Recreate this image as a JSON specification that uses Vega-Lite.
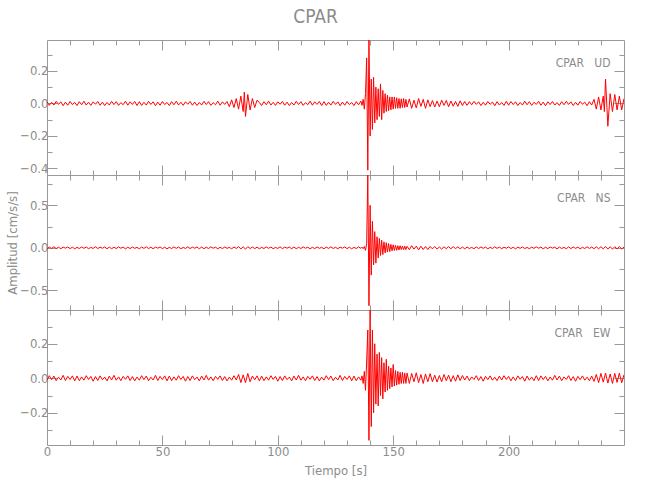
{
"$schema": "https://vega.github.io/schema/vega-lite/v6.json",
"autosize": "pad",
"padding": {"left": 6, "top": 8, "right": 26, "bottom": 5},
"background": "white",
"title": {"text": "CPAR", "fontSize": 19, "font": "Liberation Sans Narrow, DejaVu Sans Condensed, Liberation Sans, sans-serif", "color": "#8c8c8c", "fontWeight": "normal", "offset": 12, "anchor": "middle"},
"config": {
  "view": {"stroke": "#999999", "strokeWidth": 1},
  "concat": {"spacing": 0},
  "axis": {"domain": false, "grid": false, "tickColor": "#999999", "tickWidth": 1, "labelFont": "Liberation Sans Narrow, DejaVu Sans Condensed, Liberation Sans, sans-serif", "labelFontSize": 13, "labelColor": "#8c8c8c", "titleFont": "Liberation Sans Narrow, DejaVu Sans Condensed, Liberation Sans, sans-serif", "titleFontSize": 13, "titleColor": "#8c8c8c", "titleFontWeight": "normal", "labelFlush": false, "labelOverlap": false}
},
"datasets": {"d": [
{"t":0,"u":0.011,"n":-0.011,"e":-0.011},
{"t":1,"u":-0.012,"n":0.009,"e":0.015},
{"t":2,"u":0.007,"n":-0.007,"e":-0.008},
{"t":3,"u":-0.010,"n":0.012,"e":0.013},
{"t":4,"u":0.013,"n":-0.008,"e":-0.014},
{"t":5,"u":-0.006,"n":0.006,"e":0.006},
{"t":6,"u":0.010,"n":-0.010,"e":-0.010},
{"t":7,"u":-0.014,"n":0.008,"e":0.017},
{"t":8,"u":0.008,"n":-0.004,"e":-0.013},
{"t":9,"u":-0.011,"n":0.010,"e":0.011},
{"t":10,"u":0.012,"n":-0.009,"e":-0.007},
{"t":11,"u":-0.007,"n":0.007,"e":0.014},
{"t":12,"u":0.006,"n":-0.011,"e":-0.015},
{"t":13,"u":-0.013,"n":0.005,"e":0.013},
{"t":14,"u":0.011,"n":-0.008,"e":-0.014},
{"t":15,"u":-0.008,"n":0.011,"e":0.008},
{"t":16,"u":0.014,"n":-0.006,"e":-0.011},
{"t":17,"u":-0.010,"n":0.009,"e":0.015},
{"t":18,"u":0.007,"n":-0.010,"e":-0.007},
{"t":19,"u":-0.012,"n":0.004,"e":0.011},
{"t":20,"u":0.010,"n":-0.007,"e":-0.017},
{"t":21,"u":-0.005,"n":0.012,"e":0.010},
{"t":22,"u":0.012,"n":-0.009,"e":-0.013},
{"t":23,"u":-0.011,"n":0.008,"e":0.014},
{"t":24,"u":0.008,"n":-0.005,"e":-0.008},
{"t":25,"u":-0.013,"n":0.010,"e":0.007},
{"t":26,"u":0.006,"n":-0.011,"e":-0.015},
{"t":27,"u":-0.010,"n":0.009,"e":0.013},
{"t":28,"u":0.013,"n":-0.010,"e":-0.010},
{"t":29,"u":-0.007,"n":0.006,"e":0.017},
{"t":30,"u":0.011,"n":-0.008,"e":-0.011},
{"t":31,"u":-0.012,"n":0.011,"e":0.008},
{"t":32,"u":0.005,"n":-0.005,"e":-0.014},
{"t":33,"u":-0.008,"n":0.008,"e":0.011},
{"t":34,"u":0.014,"n":-0.012,"e":-0.006},
{"t":35,"u":-0.011,"n":0.007,"e":0.014},
{"t":36,"u":0.010,"n":-0.009,"e":-0.013},
{"t":37,"u":-0.006,"n":0.010,"e":0.010},
{"t":38,"u":0.012,"n":-0.006,"e":-0.015},
{"t":39,"u":-0.013,"n":0.005,"e":0.007},
{"t":40,"u":0.011,"n":-0.011,"e":-0.011},
{"t":41,"u":-0.012,"n":0.009,"e":0.015},
{"t":42,"u":0.007,"n":-0.007,"e":-0.008},
{"t":43,"u":-0.010,"n":0.012,"e":0.013},
{"t":44,"u":0.013,"n":-0.008,"e":-0.014},
{"t":45,"u":-0.006,"n":0.006,"e":0.006},
{"t":46,"u":0.010,"n":-0.010,"e":-0.010},
{"t":47,"u":-0.014,"n":0.008,"e":0.017},
{"t":48,"u":0.008,"n":-0.004,"e":-0.013},
{"t":49,"u":-0.011,"n":0.010,"e":0.011},
{"t":50,"u":0.012,"n":-0.009,"e":-0.007},
{"t":51,"u":-0.007,"n":0.007,"e":0.014},
{"t":52,"u":0.006,"n":-0.011,"e":-0.015},
{"t":53,"u":-0.013,"n":0.005,"e":0.013},
{"t":54,"u":0.011,"n":-0.008,"e":-0.014},
{"t":55,"u":-0.008,"n":0.011,"e":0.008},
{"t":56,"u":0.014,"n":-0.006,"e":-0.011},
{"t":57,"u":-0.010,"n":0.009,"e":0.015},
{"t":58,"u":0.007,"n":-0.010,"e":-0.007},
{"t":59,"u":-0.012,"n":0.004,"e":0.011},
{"t":60,"u":0.010,"n":-0.007,"e":-0.017},
{"t":61,"u":-0.005,"n":0.012,"e":0.010},
{"t":62,"u":0.012,"n":-0.009,"e":-0.013},
{"t":63,"u":-0.011,"n":0.008,"e":0.014},
{"t":64,"u":0.008,"n":-0.005,"e":-0.008},
{"t":65,"u":-0.013,"n":0.010,"e":0.007},
{"t":66,"u":0.006,"n":-0.011,"e":-0.015},
{"t":67,"u":-0.010,"n":0.009,"e":0.013},
{"t":68,"u":0.013,"n":-0.010,"e":-0.010},
{"t":69,"u":-0.007,"n":0.006,"e":0.017},
{"t":70,"u":0.011,"n":-0.008,"e":-0.011},
{"t":71,"u":-0.012,"n":0.011,"e":0.008},
{"t":72,"u":0.005,"n":-0.005,"e":-0.014},
{"t":73,"u":-0.008,"n":0.008,"e":0.011},
{"t":74,"u":0.014,"n":-0.012,"e":-0.006},
{"t":75,"u":-0.011,"n":0.007,"e":0.014},
{"t":76,"u":0.010,"n":-0.009,"e":-0.013},
{"t":77,"u":-0.006,"n":0.010,"e":0.010},
{"t":78,"u":0.012,"n":-0.006,"e":-0.015},
{"t":79,"u":-0.020,"n":0.005,"e":0.007},
{"t":80,"u":0.022,"n":-0.011,"e":-0.011},
{"t":81,"u":-0.025,"n":0.009,"e":0.015},
{"t":82,"u":0.030,"n":-0.007,"e":-0.010},
{"t":83,"u":-0.035,"n":0.014,"e":0.022},
{"t":84,"u":0.045,"n":-0.013,"e":-0.025},
{"t":85,"u":-0.050,"n":0.012,"e":0.020},
{"t":85.5,"u":0.070},
{"t":86,"u":-0.080,"n":-0.015,"e":-0.025},
{"t":87,"u":0.055,"n":0.013,"e":0.028},
{"t":88,"u":-0.040,"n":-0.008,"e":-0.020},
{"t":89,"u":0.030,"n":0.010,"e":0.013},
{"t":90,"u":-0.025,"n":-0.009,"e":-0.009},
{"t":91,"u":0.020,"n":0.007,"e":0.014},
{"t":92,"u":0.006,"n":-0.011,"e":-0.015},
{"t":93,"u":-0.013,"n":0.005,"e":0.013},
{"t":94,"u":0.011,"n":-0.008,"e":-0.014},
{"t":95,"u":-0.008,"n":0.011,"e":0.008},
{"t":96,"u":0.014,"n":-0.006,"e":-0.011},
{"t":97,"u":-0.010,"n":0.009,"e":0.015},
{"t":98,"u":0.007,"n":-0.010,"e":-0.007},
{"t":99,"u":-0.012,"n":0.004,"e":0.011},
{"t":100,"u":0.010,"n":-0.007,"e":-0.017},
{"t":101,"u":-0.005,"n":0.012,"e":0.010},
{"t":102,"u":0.012,"n":-0.009,"e":-0.013},
{"t":103,"u":-0.011,"n":0.008,"e":0.014},
{"t":104,"u":0.008,"n":-0.005,"e":-0.008},
{"t":105,"u":-0.013,"n":0.010,"e":0.007},
{"t":106,"u":0.006,"n":-0.011,"e":-0.015},
{"t":107,"u":-0.010,"n":0.009,"e":0.013},
{"t":108,"u":0.013,"n":-0.010,"e":-0.010},
{"t":109,"u":-0.007,"n":0.006,"e":0.017},
{"t":110,"u":0.011,"n":-0.008,"e":-0.011},
{"t":111,"u":-0.012,"n":0.011,"e":0.008},
{"t":112,"u":0.005,"n":-0.005,"e":-0.014},
{"t":113,"u":-0.008,"n":0.008,"e":0.011},
{"t":114,"u":0.014,"n":-0.012,"e":-0.006},
{"t":115,"u":-0.011,"n":0.007,"e":0.014},
{"t":116,"u":0.010,"n":-0.009,"e":-0.013},
{"t":117,"u":-0.006,"n":0.010,"e":0.010},
{"t":118,"u":0.012,"n":-0.006,"e":-0.015},
{"t":119,"u":-0.013,"n":0.005,"e":0.007},
{"t":120,"u":0.011,"n":-0.011,"e":-0.011},
{"t":121,"u":-0.012,"n":0.009,"e":0.015},
{"t":122,"u":0.007,"n":-0.007,"e":-0.008},
{"t":123,"u":-0.010,"n":0.012,"e":0.013},
{"t":124,"u":0.013,"n":-0.008,"e":-0.014},
{"t":125,"u":-0.006,"n":0.006,"e":0.006},
{"t":126,"u":0.010,"n":-0.010,"e":-0.010},
{"t":127,"u":-0.014,"n":0.008,"e":0.017},
{"t":128,"u":0.008,"n":-0.004,"e":-0.013},
{"t":129,"u":-0.011,"n":0.010,"e":0.011},
{"t":130,"u":0.012,"n":-0.009,"e":-0.007},
{"t":131,"u":-0.007,"n":0.007,"e":0.014},
{"t":132,"u":0.006,"n":-0.011,"e":-0.015},
{"t":133,"u":-0.013,"n":0.005,"e":0.013},
{"t":134,"u":0.011,"n":-0.008,"e":-0.014},
{"t":135,"u":-0.008,"n":0.011,"e":0.008},
{"t":136,"u":0.014,"n":-0.006,"e":-0.011},
{"t":136.5,"u":-0.012,"n":0.008,"e":0.014},
{"t":137,"u":0.025,"n":-0.010,"e":-0.030},
{"t":137.5,"u":-0.035,"n":0.015,"e":0.040},
{"t":138,"u":0.060,"n":-0.030,"e":-0.070},
{"t":138.5,"u":0.280,"n":0.050,"e":0.100},
{"t":139,"u":-0.410,"n":0.900,"e":0.280},
{"t":139.5,"u":0.420,"n":-0.680,"e":-0.360},
{"t":140,"u":-0.200,"n":0.500,"e":0.420},
{"t":140.5,"u":0.150,"n":-0.320,"e":-0.280},
{"t":141,"u":-0.160,"n":0.310,"e":0.280},
{"t":141.5,"u":0.160,"n":-0.200,"e":-0.200},
{"t":142,"u":-0.120,"n":0.190,"e":0.200},
{"t":142.5,"u":0.100,"n":-0.180,"e":-0.150},
{"t":143,"u":-0.100,"n":0.130,"e":0.140},
{"t":143.5,"u":0.090,"n":-0.120,"e":-0.160},
{"t":144,"u":-0.080,"n":0.110,"e":0.150},
{"t":144.5,"u":0.120,"n":-0.090,"e":-0.100},
{"t":145,"u":-0.100,"n":0.090,"e":0.120},
{"t":145.5,"u":0.080,"n":-0.080,"e":-0.120},
{"t":146,"u":-0.060,"n":0.070,"e":0.090},
{"t":146.5,"u":0.060,"n":-0.060,"e":-0.080},
{"t":147,"u":-0.050,"n":0.060,"e":0.110},
{"t":147.5,"u":0.050,"n":-0.050,"e":-0.070},
{"t":148,"u":-0.045,"n":0.050,"e":0.070},
{"t":148.5,"u":0.040,"n":-0.045,"e":-0.060},
{"t":149,"u":-0.040,"n":0.040,"e":0.060},
{"t":149.5,"u":0.040,"n":-0.035,"e":-0.050},
{"t":150,"u":-0.035,"n":0.035,"e":0.080},
{"t":150.5,"u":0.040,"n":-0.030,"e":-0.045},
{"t":151,"u":-0.030,"n":0.030,"e":0.045},
{"t":151.5,"u":0.035,"n":-0.030,"e":-0.040},
{"t":152,"u":-0.030,"n":0.025,"e":0.040},
{"t":152.5,"u":0.030,"n":-0.025,"e":-0.035},
{"t":153,"u":-0.030,"n":0.025,"e":0.035},
{"t":153.5,"u":0.028,"n":-0.020,"e":-0.030},
{"t":154,"u":-0.025,"n":0.020,"e":0.035},
{"t":154.5,"u":0.030,"n":-0.022,"e":-0.030},
{"t":155,"u":-0.025,"n":0.020,"e":0.030},
{"t":155.5,"u":0.025,"n":-0.020,"e":-0.030},
{"t":156,"u":-0.022,"n":0.018,"e":0.030},
{"t":157,"u":0.028,"n":-0.022,"e":-0.030},
{"t":158,"u":-0.030,"n":0.025,"e":0.028},
{"t":159,"u":0.020,"n":-0.015,"e":-0.020},
{"t":160,"u":-0.028,"n":0.020,"e":0.032},
{"t":161,"u":0.030,"n":-0.024,"e":-0.025},
{"t":162,"u":-0.018,"n":0.018,"e":0.022},
{"t":163,"u":0.025,"n":-0.020,"e":-0.030},
{"t":164,"u":-0.030,"n":0.015,"e":0.025},
{"t":165,"u":0.022,"n":-0.020,"e":-0.020},
{"t":166,"u":-0.020,"n":0.016,"e":0.027},
{"t":167,"u":0.018,"n":-0.012,"e":-0.020},
{"t":168,"u":-0.022,"n":0.015,"e":0.018},
{"t":169,"u":0.014,"n":-0.014,"e":-0.022},
{"t":170,"u":-0.020,"n":0.010,"e":0.016},
{"t":171,"u":0.020,"n":-0.015,"e":-0.020},
{"t":172,"u":-0.012,"n":0.012,"e":0.022},
{"t":173,"u":0.018,"n":-0.010,"e":-0.014},
{"t":174,"u":-0.020,"n":0.014,"e":0.018},
{"t":175,"u":0.015,"n":-0.011,"e":-0.020},
{"t":176,"u":-0.017,"n":0.013,"e":0.015},
{"t":177,"u":0.012,"n":-0.009,"e":-0.017},
{"t":178,"u":-0.018,"n":0.012,"e":0.020},
{"t":179,"u":0.016,"n":-0.011,"e":-0.013},
{"t":180,"u":-0.013,"n":0.009,"e":0.016},
{"t":181,"u":0.012,"n":-0.012,"e":-0.010},
{"t":182,"u":-0.012,"n":0.009,"e":0.013},
{"t":183,"u":0.011,"n":-0.008,"e":-0.014},
{"t":184,"u":-0.008,"n":0.005,"e":0.008},
{"t":185,"u":0.013,"n":-0.010,"e":-0.007},
{"t":186,"u":-0.006,"n":0.011,"e":0.015},
{"t":187,"u":0.010,"n":-0.009,"e":-0.013},
{"t":188,"u":-0.013,"n":0.010,"e":0.010},
{"t":189,"u":0.007,"n":-0.006,"e":-0.017},
{"t":190,"u":-0.011,"n":0.008,"e":0.011},
{"t":191,"u":0.012,"n":-0.011,"e":-0.008},
{"t":192,"u":-0.005,"n":0.005,"e":0.014},
{"t":193,"u":0.008,"n":-0.008,"e":-0.011},
{"t":194,"u":-0.014,"n":0.012,"e":0.006},
{"t":195,"u":0.011,"n":-0.007,"e":-0.014},
{"t":196,"u":-0.010,"n":0.009,"e":0.013},
{"t":197,"u":0.006,"n":-0.010,"e":-0.010},
{"t":198,"u":-0.012,"n":0.006,"e":0.015},
{"t":199,"u":0.013,"n":-0.005,"e":-0.007},
{"t":200,"u":-0.011,"n":0.011,"e":0.011},
{"t":201,"u":0.012,"n":-0.009,"e":-0.015},
{"t":202,"u":-0.007,"n":0.007,"e":0.008},
{"t":203,"u":0.010,"n":-0.012,"e":-0.013},
{"t":204,"u":-0.013,"n":0.008,"e":0.014},
{"t":205,"u":0.006,"n":-0.006,"e":-0.006},
{"t":206,"u":-0.010,"n":0.010,"e":0.010},
{"t":207,"u":0.014,"n":-0.008,"e":-0.017},
{"t":208,"u":-0.008,"n":0.004,"e":0.013},
{"t":209,"u":0.011,"n":-0.010,"e":-0.011},
{"t":210,"u":-0.012,"n":0.009,"e":0.007},
{"t":211,"u":0.007,"n":-0.007,"e":-0.014},
{"t":212,"u":-0.006,"n":0.011,"e":0.015},
{"t":213,"u":0.013,"n":-0.005,"e":-0.013},
{"t":214,"u":-0.011,"n":0.008,"e":0.014},
{"t":215,"u":0.008,"n":-0.011,"e":-0.008},
{"t":216,"u":-0.014,"n":0.006,"e":0.011},
{"t":217,"u":0.010,"n":-0.009,"e":-0.015},
{"t":218,"u":-0.007,"n":0.010,"e":0.007},
{"t":219,"u":0.012,"n":-0.004,"e":-0.011},
{"t":220,"u":-0.010,"n":0.007,"e":0.017},
{"t":221,"u":0.005,"n":-0.012,"e":-0.010},
{"t":222,"u":-0.012,"n":0.009,"e":0.013},
{"t":223,"u":0.011,"n":-0.008,"e":-0.014},
{"t":224,"u":-0.008,"n":0.005,"e":0.008},
{"t":225,"u":0.013,"n":-0.010,"e":-0.007},
{"t":226,"u":-0.006,"n":0.011,"e":0.015},
{"t":227,"u":0.010,"n":-0.009,"e":-0.013},
{"t":228,"u":-0.013,"n":0.010,"e":0.010},
{"t":229,"u":0.007,"n":-0.006,"e":-0.017},
{"t":230,"u":-0.011,"n":0.008,"e":0.011},
{"t":231,"u":0.012,"n":-0.011,"e":-0.008},
{"t":232,"u":-0.005,"n":0.005,"e":0.014},
{"t":233,"u":0.008,"n":-0.008,"e":-0.011},
{"t":234,"u":-0.014,"n":0.012,"e":0.006},
{"t":235,"u":0.011,"n":-0.007,"e":-0.014},
{"t":236,"u":-0.010,"n":0.009,"e":0.013},
{"t":237,"u":0.025,"n":-0.010,"e":-0.018},
{"t":238,"u":-0.035,"n":0.012,"e":0.022},
{"t":239,"u":0.040,"n":-0.011,"e":-0.025},
{"t":240,"u":-0.040,"n":0.013,"e":0.028},
{"t":241,"u":0.045,"n":-0.012,"e":-0.022},
{"t":241.5,"u":-0.050},
{"t":242,"u":0.150,"n":0.015,"e":0.030},
{"t":243,"u":-0.140,"n":-0.014,"e":-0.028},
{"t":244,"u":0.060,"n":0.012,"e":0.025},
{"t":245,"u":-0.050,"n":-0.015,"e":-0.030},
{"t":246,"u":0.055,"n":0.013,"e":0.028},
{"t":247,"u":-0.040,"n":-0.012,"e":-0.024},
{"t":248,"u":0.045,"n":0.014,"e":0.030},
{"t":249,"u":-0.040,"n":-0.013,"e":-0.026},
{"t":250,"u":0.030,"n":0.010,"e":0.020}
]},
"data": {"name": "d"},
"spacing": 0,
"bounds": "flush",
"vconcat": [
{
  "width": 577, "height": 135,
  "title": {"text": "CPAR\u00a0\u00a0\u00a0UD", "anchor": "end", "offset": -30, "dx": -14, "fontSize": 12, "fontWeight": "normal", "color": "#8c8c8c", "font": "Liberation Sans Narrow, DejaVu Sans Condensed, Liberation Sans, sans-serif"},
  "transform": [{"filter": "isValid(datum.u)"}],
  "layer": [
    {"mark": {"type": "line", "color": "#ff0000", "strokeWidth": 1, "strokeJoin": "bevel", "clip": true},
     "encoding": {
       "x": {"field": "t", "type": "quantitative", "scale": {"domain": [0, 250], "nice": false, "zero": false, "clamp": true}, "axis": {"orient": "bottom", "values": [0, 50, 100, 150, 200], "tickSize": -10, "labels": false, "title": null}},
       "y": {"field": "u", "type": "quantitative", "scale": {"domain": [-0.44, 0.39], "nice": false, "zero": false, "clamp": true}, "axis": {"orient": "left", "values": [-0.4, -0.2, 0, 0.2], "tickSize": -10, "format": ".1f", "labelPadding": 9, "title": null}}
     }},
    {"mark": {"type": "line", "opacity": 0, "strokeJoin": "bevel"},
     "encoding": {
       "x": {"field": "t", "type": "quantitative", "axis": {"orient": "bottom", "values": [10,20,30,40,60,70,80,90,110,120,130,140,160,170,180,190,210,220,230,240], "tickSize": -5, "labels": false, "title": null}},
       "y": {"field": "u", "type": "quantitative", "axis": {"orient": "left", "values": [-0.3, -0.1, 0.1, 0.3], "tickSize": -5, "labels": false, "title": null}}
     }},
    {"mark": {"type": "line", "opacity": 0, "strokeJoin": "bevel"},
     "encoding": {
       "x": {"field": "t", "type": "quantitative", "axis": {"orient": "top", "values": [50, 100, 150, 200], "tickSize": -10, "labels": false, "title": null}},
       "y": {"field": "u", "type": "quantitative", "axis": {"orient": "right", "values": [-0.4, -0.2, 0, 0.2], "tickSize": -10, "labels": false, "title": null}}
     }},
    {"mark": {"type": "line", "opacity": 0, "strokeJoin": "bevel"},
     "encoding": {
       "x": {"field": "t", "type": "quantitative", "axis": {"orient": "top", "values": [10,20,30,40,60,70,80,90,110,120,130,140,160,170,180,190,210,220,230,240], "tickSize": -5, "labels": false, "title": null}},
       "y": {"field": "u", "type": "quantitative", "axis": {"orient": "right", "values": [-0.3, -0.1, 0.1, 0.3], "tickSize": -5, "labels": false, "title": null}}
     }}
  ],
  "resolve": {"axis": {"x": "independent", "y": "independent"}}
},
{
  "width": 577, "height": 135,
  "title": {"text": "CPAR\u00a0\u00a0\u00a0NS", "anchor": "end", "offset": -30, "dx": -14, "fontSize": 12, "fontWeight": "normal", "color": "#8c8c8c", "font": "Liberation Sans Narrow, DejaVu Sans Condensed, Liberation Sans, sans-serif"},
  "transform": [{"filter": "isValid(datum.n)"}],
  "layer": [
    {"mark": {"type": "line", "color": "#ff0000", "strokeWidth": 1, "strokeJoin": "bevel", "clip": true},
     "encoding": {
       "x": {"field": "t", "type": "quantitative", "scale": {"domain": [0, 250], "nice": false, "zero": false, "clamp": true}, "axis": {"orient": "bottom", "values": [0, 50, 100, 150, 200], "tickSize": -10, "labels": false, "title": null}},
       "y": {"field": "n", "type": "quantitative", "scale": {"domain": [-0.73, 0.855], "nice": false, "zero": false, "clamp": true}, "axis": {"orient": "left", "values": [-0.5, 0, 0.5], "tickSize": -10, "format": ".1f", "labelPadding": 9, "title": "Amplitud [cm/s/s]", "titlePadding": 0}}
     }},
    {"mark": {"type": "line", "opacity": 0, "strokeJoin": "bevel"},
     "encoding": {
       "x": {"field": "t", "type": "quantitative", "axis": {"orient": "bottom", "values": [10,20,30,40,60,70,80,90,110,120,130,140,160,170,180,190,210,220,230,240], "tickSize": -5, "labels": false, "title": null}},
       "y": {"field": "n", "type": "quantitative", "axis": {"orient": "left", "values": [-0.25, 0.25, 0.75], "tickSize": -5, "labels": false, "title": null}}
     }},
    {"mark": {"type": "line", "opacity": 0, "strokeJoin": "bevel"},
     "encoding": {
       "x": {"field": "t", "type": "quantitative", "axis": {"orient": "top", "values": [50, 100, 150, 200], "tickSize": -10, "labels": false, "title": null}},
       "y": {"field": "n", "type": "quantitative", "axis": {"orient": "right", "values": [-0.5, 0, 0.5], "tickSize": -10, "labels": false, "title": null}}
     }},
    {"mark": {"type": "line", "opacity": 0, "strokeJoin": "bevel"},
     "encoding": {
       "x": {"field": "t", "type": "quantitative", "axis": {"orient": "top", "values": [10,20,30,40,60,70,80,90,110,120,130,140,160,170,180,190,210,220,230,240], "tickSize": -5, "labels": false, "title": null}},
       "y": {"field": "n", "type": "quantitative", "axis": {"orient": "right", "values": [-0.25, 0.25, 0.75], "tickSize": -5, "labels": false, "title": null}}
     }}
  ],
  "resolve": {"axis": {"x": "independent", "y": "independent"}}
},
{
  "width": 577, "height": 135,
  "title": {"text": "CPAR\u00a0\u00a0\u00a0EW", "anchor": "end", "offset": -30, "dx": -14, "fontSize": 12, "fontWeight": "normal", "color": "#8c8c8c", "font": "Liberation Sans Narrow, DejaVu Sans Condensed, Liberation Sans, sans-serif"},
  "transform": [{"filter": "isValid(datum.e)"}],
  "layer": [
    {"mark": {"type": "line", "color": "#ff0000", "strokeWidth": 1, "strokeJoin": "bevel", "clip": true},
     "encoding": {
       "x": {"field": "t", "type": "quantitative", "scale": {"domain": [0, 250], "nice": false, "zero": false, "clamp": true}, "axis": {"orient": "bottom", "values": [0, 50, 100, 150, 200], "tickSize": -10, "labels": true, "labelPadding": 10, "title": "Tiempo [s]", "titlePadding": 6}},
       "y": {"field": "e", "type": "quantitative", "scale": {"domain": [-0.387, 0.396], "nice": false, "zero": false, "clamp": true}, "axis": {"orient": "left", "values": [-0.2, 0, 0.2], "tickSize": -10, "format": ".1f", "labelPadding": 9, "title": null}}
     }},
    {"mark": {"type": "line", "opacity": 0, "strokeJoin": "bevel"},
     "encoding": {
       "x": {"field": "t", "type": "quantitative", "axis": {"orient": "bottom", "values": [10,20,30,40,60,70,80,90,110,120,130,140,160,170,180,190,210,220,230,240], "tickSize": -5, "labels": false, "title": null}},
       "y": {"field": "e", "type": "quantitative", "axis": {"orient": "left", "values": [-0.3, -0.1, 0.1, 0.3], "tickSize": -5, "labels": false, "title": null}}
     }},
    {"mark": {"type": "line", "opacity": 0, "strokeJoin": "bevel"},
     "encoding": {
       "x": {"field": "t", "type": "quantitative", "axis": {"orient": "top", "values": [50, 100, 150, 200], "tickSize": -10, "labels": false, "title": null}},
       "y": {"field": "e", "type": "quantitative", "axis": {"orient": "right", "values": [-0.2, 0, 0.2], "tickSize": -10, "labels": false, "title": null}}
     }},
    {"mark": {"type": "line", "opacity": 0, "strokeJoin": "bevel"},
     "encoding": {
       "x": {"field": "t", "type": "quantitative", "axis": {"orient": "top", "values": [10,20,30,40,60,70,80,90,110,120,130,140,160,170,180,190,210,220,230,240], "tickSize": -5, "labels": false, "title": null}},
       "y": {"field": "e", "type": "quantitative", "axis": {"orient": "right", "values": [-0.3, -0.1, 0.1, 0.3], "tickSize": -5, "labels": false, "title": null}}
     }}
  ],
  "resolve": {"axis": {"x": "independent", "y": "independent"}}
}
]
}
